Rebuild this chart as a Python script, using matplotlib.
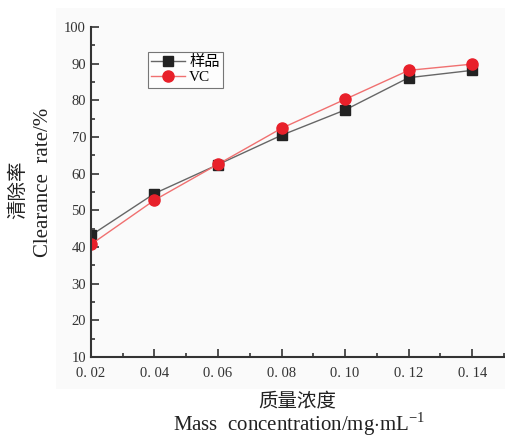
import numpy as np
import matplotlib.pyplot as plt
from matplotlib.ticker import MultipleLocator, FixedLocator

# data
conc = [0.02, 0.04, 0.06, 0.08, 0.10, 0.12, 0.14]
sample = [43.2, 54.6, 62.5, 70.5, 77.4, 86.2, 88.2]
vc = [40.7, 52.8, 62.6, 72.4, 80.3, 88.2, 89.9]
xtick_labels = ['0. 02', '0. 04', '0. 06', '0. 08', '0. 10', '0. 12', '0. 14']

plt.rcParams['font.family'] = ['Liberation Serif', 'Noto Sans CJK SC']
plt.rcParams['mathtext.fontset'] = 'custom'
plt.rcParams['mathtext.rm'] = 'Liberation Serif'

W, H = 505, 437
fig = plt.figure(figsize=(W / 100, H / 100), dpi=100)
# faint grey panel behind the plot
bg = fig.add_axes([0.111, 0.11, 0.889, 0.872], zorder=-1)
bg.axis('off')
bg.add_patch(plt.Rectangle((0, 0), 1, 1, transform=bg.transAxes, color='#fafafa'))

ax = fig.add_axes([0.180, 0.183, 0.818, 0.755], zorder=1)
ax.patch.set_alpha(0)

ax.plot(conc, sample, color='#666666', lw=1.0, marker='s', ms=7,
        mfc='#222222', mec='#222222', label='样品')
ax.plot(conc, vc, color='#f07070', lw=1.0, marker='o', ms=8,
        mfc='#e8202a', mec='#e8202a', label='VC')

ax.set_xlim(0.02, 0.15)
ax.set_ylim(10, 100)
ax.xaxis.set_major_locator(FixedLocator(conc))
ax.set_xticklabels(xtick_labels)
ax.xaxis.set_minor_locator(MultipleLocator(0.01))
ax.yaxis.set_major_locator(MultipleLocator(10))
ax.yaxis.set_minor_locator(MultipleLocator(5))

for s in ['top', 'right']:
    ax.spines[s].set_visible(False)
for s in ['left', 'bottom']:
    ax.spines[s].set_color('#333333')
    ax.spines[s].set_linewidth(1.5)

ax.tick_params(which='both', direction='in', color='#333333', width=1.2,
               labelsize=10.5, labelcolor='#333333')
ax.tick_params(which='major', length=6)
ax.tick_params(which='minor', length=3)
ax.tick_params(axis='x', pad=7)

# axis titles, two lines each
fig.text(297 / W, 1 - 401 / H, '质量浓度', fontsize=14, ha='center', va='center', color='#222222')
fig.text(299 / W, 1 - 424 / H, 'Mass  concentration/mg$\\cdot$mL$^{-1}$', fontsize=15,
         ha='center', va='center', color='#222222')
fig.text(18 / W, 1 - 190 / H, '清除率', fontsize=14, rotation=90, ha='center', va='center',
         color='#222222')
fig.text(44 / W, 1 - 182 / H, 'Clearance  rate/%', fontsize=15, rotation=90, ha='center',
         va='center', color='#222222')

leg = ax.legend(loc='upper left', bbox_to_anchor=(0.138, 0.924), fontsize=11,
                frameon=True, fancybox=False, edgecolor='#555555', borderaxespad=0,
                handlelength=2.2, borderpad=0.2, labelspacing=0.1, handletextpad=0.3)
leg.get_frame().set_linewidth(0.8)

plt.savefig('out.png', dpi=100)
